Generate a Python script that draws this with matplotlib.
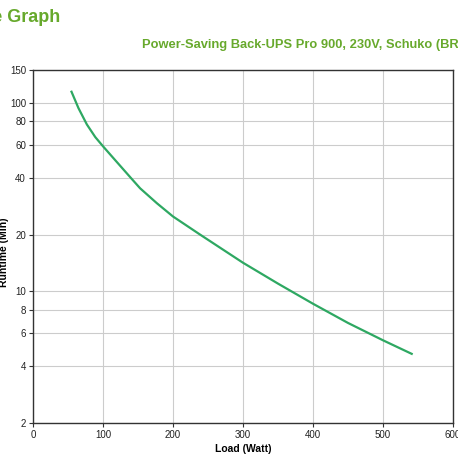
import matplotlib
matplotlib.use("Agg")
import matplotlib.pyplot as plt
from matplotlib.ticker import FixedLocator, NullLocator

plt.rcParams['font.family'] = ['Liberation Sans', 'DejaVu Sans']

load_watt = [55, 65, 77, 89, 100, 117, 140, 153, 177, 200, 239, 300, 350, 400, 450, 500, 541]
runtime_min = [115, 94, 77, 66, 59, 50, 40, 35.3, 29.4, 25, 20, 14.2, 11.0, 8.6, 6.8, 5.5, 4.66]

x_ticks = [0, 100, 200, 300, 400, 500, 600]
y_ticks = [2, 4, 6, 8, 10, 20, 40, 60, 80, 100, 150]

title = "Runtime Graph"
subtitle = "Power-Saving Back-UPS Pro 900, 230V, Schuko (BR900G-GR)"

fig = plt.figure(figsize=(4.58, 4.58), dpi=100)
ax = fig.add_axes([33/458, 1 - 423/458, 420/458, 353/458])

ax.plot(load_watt, runtime_min, color='#2ea862', linewidth=1.6)

ax.set_yscale('log')
ax.set_xlim(0, 600)
ax.set_ylim(2, 150)
ax.xaxis.set_major_locator(FixedLocator(x_ticks))
ax.yaxis.set_major_locator(FixedLocator(y_ticks))
ax.yaxis.set_minor_locator(NullLocator())
ax.set_xticklabels([str(t) for t in x_ticks])
ax.set_yticklabels([str(t) for t in y_ticks])
ax.tick_params(labelsize=7, length=3, color='#333333', labelcolor='#222222', pad=2)
ax.grid(True, color='#cccccc', linewidth=0.8)

for s in ax.spines.values():
    s.set_color('#333333')
    s.set_linewidth(1.0)

ax.set_xlabel("Load (Watt)", fontsize=7.5, fontweight='bold', labelpad=3)
ax.set_ylabel("Runtime (Min)", fontsize=7.5, fontweight='bold')
ax.yaxis.set_label_coords(-0.058, 0.484)

fig.text(60/458, 1 - 18/458, title, ha='right', va='center', fontsize=13,
         fontweight='bold', color='#67a92c')
fig.text(142/458, 1 - 45/458, subtitle, ha='left', va='center', fontsize=9.3,
         fontweight='bold', color='#67a92c')

fig.savefig("out.png", dpi=100)
